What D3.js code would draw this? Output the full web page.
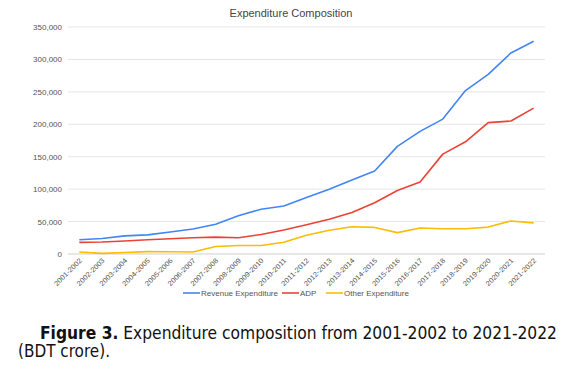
<!DOCTYPE html>
<html>
<head>
<meta charset="utf-8">
<script src="https://cdn.jsdelivr.net/npm/d3@7"></script>
<style>
  body { margin: 0; background: #fff; }
  svg { display: block; }
</style>
</head>
<body>
<svg></svg>
<script>
const years = ["2001-2002","2002-2003","2003-2004","2004-2005","2005-2006","2006-2007","2007-2008",
  "2008-2009","2009-2010","2010-2011","2011-2012","2012-2013","2013-2014","2014-2015","2015-2016",
  "2016-2017","2017-2018","2018-2019","2019-2020","2020-2021","2021-2022"];
const revenue = [22000,24000,28000,29500,34000,38500,46000,59000,69000,74000,87000,100000,114000,128000,
  166000,189000,208000,252000,277000,310000,328000];
const adp = [18000,18500,20000,22000,23500,25000,26000,25000,30000,37000,45000,53500,64000,79000,
  98000,111000,154000,173000,202500,205000,225000];
const other = [3000,1000,2300,3600,3500,3000,11500,13000,13000,18000,29000,36500,42000,41000,
  33000,40000,39000,39000,41500,51000,48000];
const yTicks = [0,50000,100000,150000,200000,250000,300000,350000];
const seriesNames = ["Revenue Expenditure","ADP","Other Expenditure"];
const seriesColors = ["#4285f4","#ea4335","#fbbc04"];

const width = 572, height = 370;
const svg = d3.select('svg').attr('width', width).attr('height', height);

const x = d3.scalePoint().domain(years).range([68, 545]).padding(0.5);
const y = d3.scaleLinear().domain([0, 350000]).range([254, 27]);

// gridlines
svg.append('g').selectAll('line')
  .data(yTicks)
  .enter().append('line')
  .attr('x1', 68).attr('x2', 545)
  .attr('y1', d => y(d)).attr('y2', d => y(d))
  .attr('stroke', d => d === 0 ? '#d0d0d0' : '#e6e6e6')
  .attr('stroke-width', 1);

// y labels
svg.append('g').selectAll('text')
  .data(yTicks)
  .enter().append('text')
  .attr('x', 62).attr('y', d => y(d) + 3)
  .attr('text-anchor', 'end')
  .style('font', '8px Arial, "Liberation Sans", sans-serif')
  .style('fill', '#555')
  .text(d => d3.format(',')(d));

// x labels
svg.append('g').selectAll('text')
  .data(years)
  .enter().append('text')
  .attr('transform', d => `translate(${x(d) + 3},${261}) rotate(-45)`)
  .attr('text-anchor', 'end')
  .attr('textLength', 36)
  .attr('lengthAdjust', 'spacingAndGlyphs')
  .style('font', '7px Arial, "Liberation Sans", sans-serif')
  .style('fill', '#555')
  .text(d => d);

// lines
const line = d3.line().x((d, i) => x(years[i])).y(d => y(d));
[revenue, adp, other].forEach((s, k) => {
  svg.append('path')
    .datum(s)
    .attr('d', line)
    .attr('fill', 'none')
    .attr('stroke', seriesColors[k])
    .attr('stroke-width', 1.6)
    .attr('stroke-linejoin', 'round');
});

// title
svg.append('text')
  .attr('x', 291).attr('y', 17)
  .attr('text-anchor', 'middle')
  .style('font', '11px Arial, "Liberation Sans", sans-serif')
  .style('fill', '#444')
  .text('Expenditure Composition');

// legend
const legendX = [183, 282, 326];
const legend = svg.append('g').selectAll('g')
  .data(seriesNames)
  .enter().append('g')
  .attr('transform', (d, i) => `translate(${legendX[i]},293)`);
legend.append('line')
  .attr('x1', 0).attr('x2', 17)
  .attr('stroke', (d, i) => seriesColors[i])
  .attr('stroke-width', 1.6);
legend.append('text')
  .attr('x', 18).attr('y', 3)
  .style('font', '8px Arial, "Liberation Sans", sans-serif')
  .style('fill', '#555')
  .text(d => d);

// caption
const capFont = '"Liberation Sans Narrow", "DejaVu Sans Condensed", "Arial Narrow", sans-serif';
const cap = svg.append('text')
  .attr('x', 40).attr('y', 339)
  .attr('textLength', 517)
  .attr('lengthAdjust', 'spacingAndGlyphs')
  .style('font-family', capFont)
  .style('font-size', '17px')
  .style('fill', '#111');
cap.append('tspan').style('font-weight', 'bold').text('Figure 3.');
cap.append('tspan').text(' Expenditure composition from 2001-2002 to 2021-2022');
svg.append('text')
  .attr('x', 18).attr('y', 357)
  .attr('textLength', 92)
  .attr('lengthAdjust', 'spacingAndGlyphs')
  .style('font-family', capFont)
  .style('font-size', '17px')
  .style('fill', '#111')
  .text('(BDT crore).');
</script>
</body>
</html>
